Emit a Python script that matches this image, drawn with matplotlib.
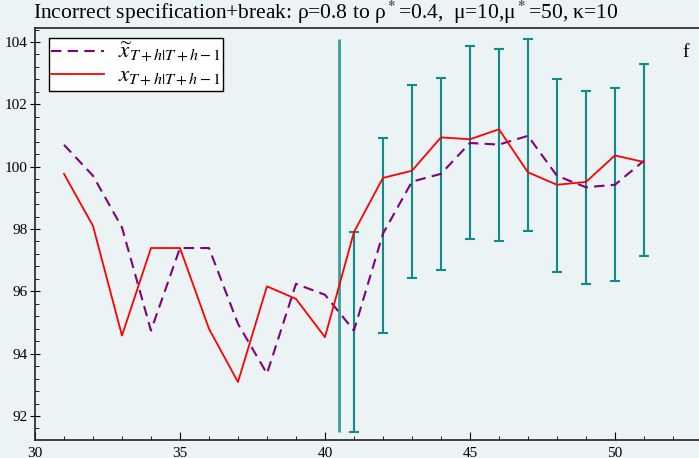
import matplotlib
matplotlib.use("Agg")
import matplotlib.pyplot as plt
from matplotlib.ticker import MultipleLocator
import numpy as np

plt.rcParams['font.family'] = ['Liberation Serif', 'DejaVu Serif']
plt.rcParams['mathtext.fontset'] = 'stix'

# data
h = np.arange(31, 52)
x_tilde = [100.70, 99.71, 98.05, 94.74, 97.39, 97.39, 94.96, 93.36, 96.24, 95.89,
           94.74, 97.85, 99.52, 99.77, 100.76, 100.71, 100.99, 99.71, 99.34, 99.42, 100.19]
x_fc = [99.77, 98.10, 94.58, 97.39, 97.39, 94.80, 93.09, 96.16, 95.76, 94.53,
        97.90, 99.64, 99.87, 100.94, 100.88, 101.20, 99.82, 99.42, 99.51, 100.36, 100.15]

# interval bands from h=41 on
h_bar = np.arange(41, 52)
bar_lo = [91.48, 94.67, 96.42, 96.68, 97.67, 97.61, 97.93, 96.61, 96.23, 96.32, 97.13]
bar_hi = [97.92, 100.91, 102.63, 102.86, 103.87, 103.78, 104.10, 102.80, 102.43, 102.52, 103.31]

# break marker
brk_x = 40.48
brk_lo, brk_hi = 91.48, 104.10

bg = '#ebf3f5'
fig = plt.figure(figsize=(6.99, 4.58), dpi=100, facecolor=bg)
ax = fig.add_axes([35/699, 18/458, 664/699, 412/458], facecolor=bg)

ax.vlines(brk_x, brk_lo, brk_hi, color='#3a9e9e', lw=2)

mid = (np.array(bar_lo) + np.array(bar_hi)) / 2
err = [mid - np.array(bar_lo), np.array(bar_hi) - mid]
ax.errorbar(h_bar, mid, yerr=err, fmt='none', ecolor='#108a8a', elinewidth=1.5,
            capsize=3.3, capthick=1.5)

ax.plot(h, x_tilde, color='#800080', lw=1.5, dashes=(5, 3),
        label=r'$\widetilde{x}_{T+h|T+h-1}$')
ax.plot(h, x_fc, color='red', lw=1.3, label=r'$x_{T+h|T+h-1}$')

ax.set_xlim(30, 52.9)
ax.set_ylim(91.23, 104.45)
ax.xaxis.set_major_locator(MultipleLocator(5))
ax.xaxis.set_minor_locator(MultipleLocator(1))
ax.yaxis.set_major_locator(MultipleLocator(2))
ax.yaxis.set_minor_locator(MultipleLocator(0.4))
ax.tick_params(axis='x', which='both', direction='in', labelsize=11, pad=5)
ax.tick_params(axis='x', which='major', length=6)
ax.tick_params(axis='x', which='minor', length=3)
ax.tick_params(axis='y', which='major', direction='inout', length=7, labelsize=11, pad=2)
ax.tick_params(axis='y', which='minor', direction='in', length=3)
for s in ['left', 'bottom', 'top']:
    ax.spines[s].set_linewidth(1.2)
    ax.spines[s].set_color('#222222')
ax.spines['right'].set_visible(False)

ax.text(0.985, 0.96, 'f', transform=ax.transAxes, fontsize=14, ha='right', va='top')

leg = ax.legend(loc='upper left', bbox_to_anchor=(0.021, 0.975), fontsize=16.5,
                fancybox=False, framealpha=1, edgecolor='black', handlelength=2.3,
                borderpad=0.1, labelspacing=0.05, handletextpad=0.6, borderaxespad=0)
leg.get_frame().set_linewidth(1.0)

fig.text(33/699, 1 - 26/458, r'Incorrect specification+break: ρ=0.8 to ρ$^*$=0.4,  μ=10,μ$^*$=50, κ=10',
         fontsize=15.5, ha='left', va='bottom')

fig.savefig('out.png', dpi=100, facecolor=bg)
